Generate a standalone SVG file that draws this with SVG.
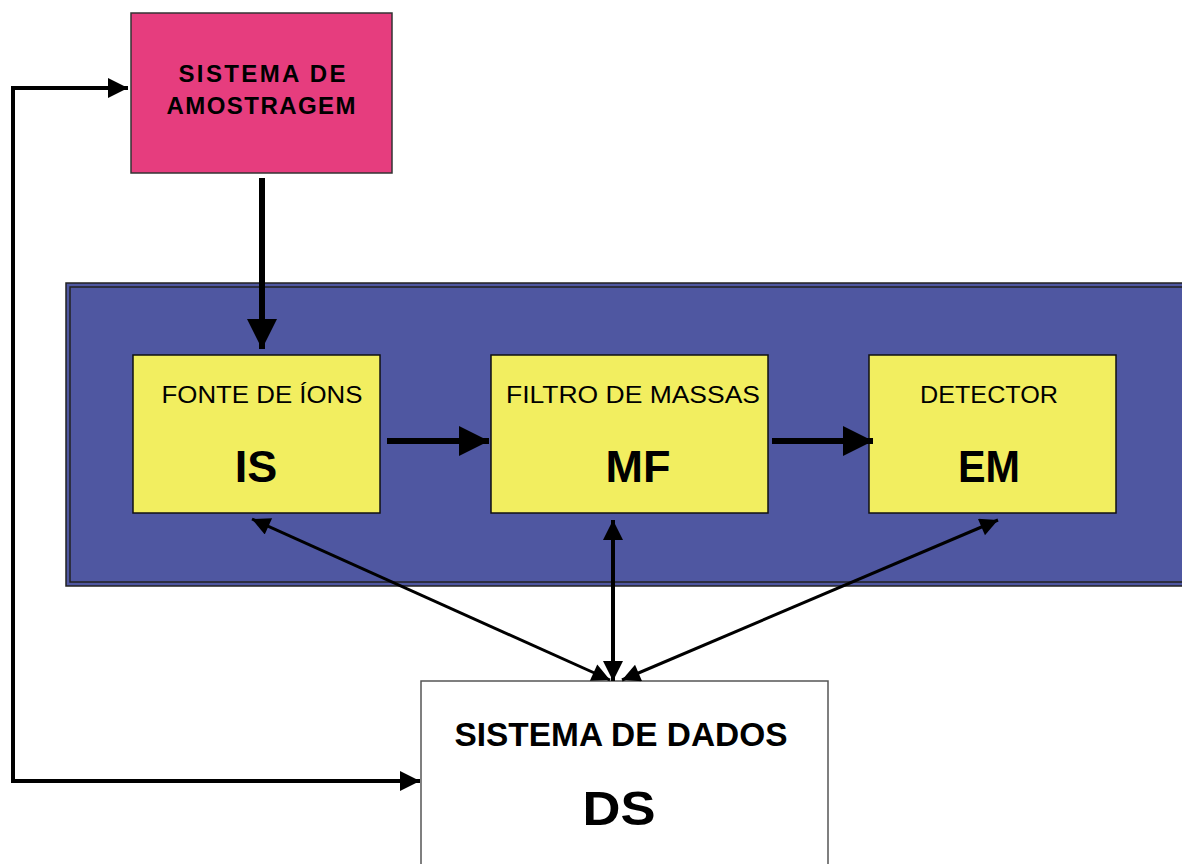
<svg xmlns="http://www.w3.org/2000/svg" width="1182" height="864" viewBox="0 0 1182 864">
<style>
.t{font-family:"Liberation Sans",Arial,sans-serif;fill:#000;text-anchor:middle}
.b{font-weight:bold}
.yl{fill:#F2EE60;stroke:#111;stroke-width:1.5}
.thick{stroke:#000;stroke-width:6;fill:none}
.thin{stroke:#000;stroke-width:3;fill:none}
.fb{stroke:#000;stroke-width:4;fill:none}
</style>
<defs>
<marker id="ah" viewBox="0 0 10 10" refX="10" refY="5" markerWidth="5" markerHeight="5" orient="auto" markerUnits="strokeWidth"><path d="M0,0 L10,5 L0,10 z" fill="#000"/></marker>
<marker id="ahs" viewBox="0 0 10 10" refX="10" refY="5" markerWidth="7" markerHeight="6" orient="auto-start-reverse" markerUnits="strokeWidth"><path d="M0,0 L10,5 L0,10 z" fill="#000"/></marker>
<marker id="ahf" viewBox="0 0 10 10" refX="10" refY="5" markerWidth="5" markerHeight="5" orient="auto-start-reverse" markerUnits="strokeWidth"><path d="M0,0 L10,5 L0,10 z" fill="#000"/></marker>
</defs>
<rect width="1182" height="864" fill="#fff"/>
<g id="ms">
<rect x="66" y="283" width="1130" height="303" fill="#4F57A1" stroke="#222" stroke-width="1.5"/>
<rect x="70" y="287" width="1122" height="295" fill="none" stroke="#222" stroke-width="1.5"/>
</g>
<g id="sa">
<rect x="131" y="13" width="261" height="160" fill="#E63D7E" stroke="#333" stroke-width="1.5"/>
<text class="t b" x="262" y="82" font-size="24" textLength="167" lengthAdjust="spacing">SISTEMA  DE</text>
<text class="t b" x="261" y="114" font-size="24" textLength="189" lengthAdjust="spacing">AMOSTRAGEM</text>
</g>
<g id="is">
<rect class="yl" x="133" y="355" width="247" height="158"/>
<text class="t" x="262" y="403" font-size="23" textLength="201" lengthAdjust="spacingAndGlyphs">FONTE DE ÍONS</text>
<text class="t b" x="256" y="482" font-size="45">IS</text>
</g>
<g id="mf">
<rect class="yl" x="491" y="355" width="277" height="158"/>
<text class="t" x="633" y="403" font-size="23" textLength="254" lengthAdjust="spacingAndGlyphs">FILTRO DE MASSAS</text>
<text class="t b" x="638" y="482" font-size="45">MF</text>
</g>
<g id="em">
<rect class="yl" x="869" y="355" width="247" height="158"/>
<text class="t" x="989" y="403" font-size="23" textLength="138" lengthAdjust="spacingAndGlyphs">DETECTOR</text>
<text class="t b" x="989" y="482" font-size="45" textLength="62" lengthAdjust="spacingAndGlyphs">EM</text>
</g>
<g id="ds">
<rect x="421" y="681" width="407" height="200" fill="#fff" stroke="#555" stroke-width="1.5"/>
<text class="t b" x="621" y="746" font-size="33" textLength="333" lengthAdjust="spacingAndGlyphs">SISTEMA DE DADOS</text>
<text class="t b" x="619" y="825" font-size="48" textLength="73" lengthAdjust="spacingAndGlyphs">DS</text>
</g>
<g id="connectors">
<line class="thick" x1="262" y1="178" x2="262" y2="349" marker-end="url(#ah)"/>
<line class="thick" x1="387" y1="441" x2="489" y2="441" marker-end="url(#ah)"/>
<line class="thick" x1="772" y1="441" x2="873" y2="441" marker-end="url(#ah)"/>
<line class="thin" x1="610" y1="680" x2="252" y2="519" marker-start="url(#ahs)" marker-end="url(#ahs)"/>
<line class="fb" x1="613" y1="681" x2="613" y2="520" marker-start="url(#ahf)" marker-end="url(#ahf)"/>
<line class="thin" x1="622" y1="680" x2="998" y2="520" marker-start="url(#ahs)" marker-end="url(#ahs)"/>
<polyline class="fb" points="405,781 13,781 13,88 128,88" marker-end="url(#ahf)"/>
<line x1="13" y1="781" x2="420" y2="781" stroke="#000" stroke-width="4" marker-end="url(#ahf)"/>
</g>
</svg>
